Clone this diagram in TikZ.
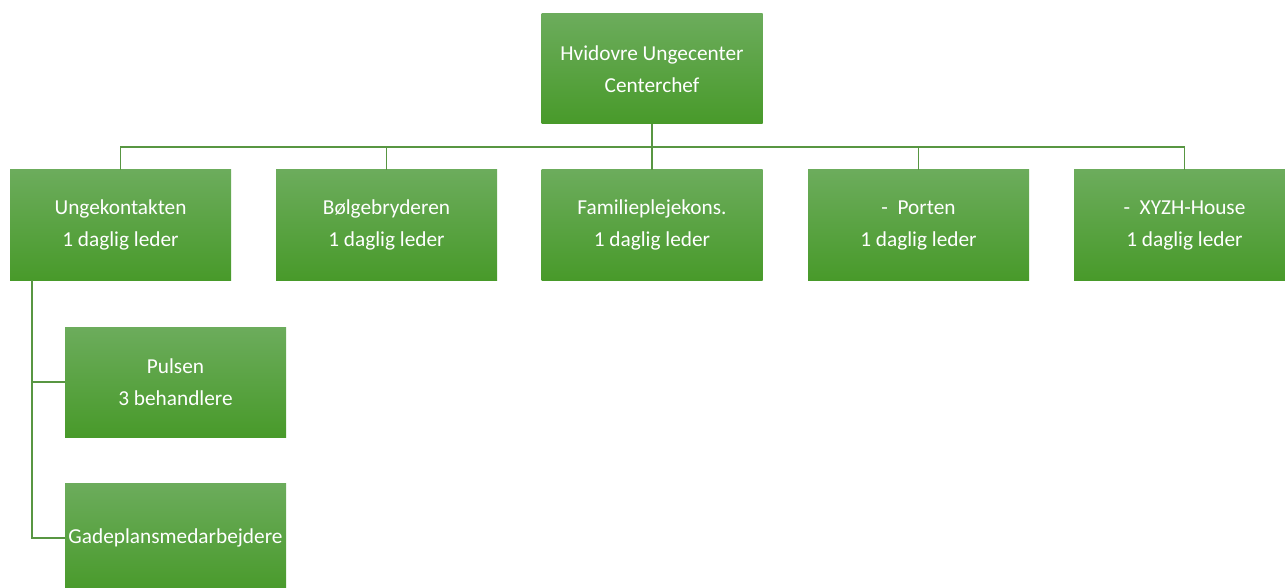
\documentclass[tikz,border=0pt]{standalone}
\usepackage{fontspec}
\setmainfont{Carlito}
\begin{document}
\begin{tikzpicture}[x=1pt,y=-1pt,
  box/.style={rectangle, minimum width=221pt, minimum height=110pt, inner sep=0pt,
    top color=boxtop, bottom color=boxbot, draw=none, text=white, align=center,
    font=\fontsize{21.3}{32}\selectfont},
  conn/.style={draw=linecol, line width=1.3pt}]
\definecolor{boxtop}{RGB}{108,172,92}
\definecolor{boxbot}{RGB}{72,154,42}
\definecolor{linecol}{RGB}{88,150,66}
\clip (0,0) rectangle (1285,588);
\node[box] (top) at (652,69) {Hvidovre Ungecenter\\Centerchef};
\node[box] (a) at (120.5,225) {Ungekontakten\\1 daglig leder};
\node[box] (b) at (386.5,225) {Bølgebryderen\\1 daglig leder};
\node[box] (c) at (652,225) {Familieplejekons.\\1 daglig leder};
\node[box] (d) at (918.5,225) {-\ \ Porten\\1 daglig leder};
\node[box] (e) at (1184.5,225) {-\ \ XYZH-House\\1 daglig leder};
\node[box] (p) at (175.5,382) {Pulsen\\3 behandlere};
\node[box] (g) at (175.5,538) {Gadeplansmedarbejdere};
\coordinate (bus) at (652,147);
\draw[conn] (top.south) -- (bus);
\foreach \n in {a,b,c,d,e}{
  \draw[conn] (top.south) -- (bus) -| (\n.north);
}
\draw[conn] (a.south -| 32,0) -- (32,538) -- (g.west);
\draw[conn] (32,382) -- (p.west);
\end{tikzpicture}
\end{document}
